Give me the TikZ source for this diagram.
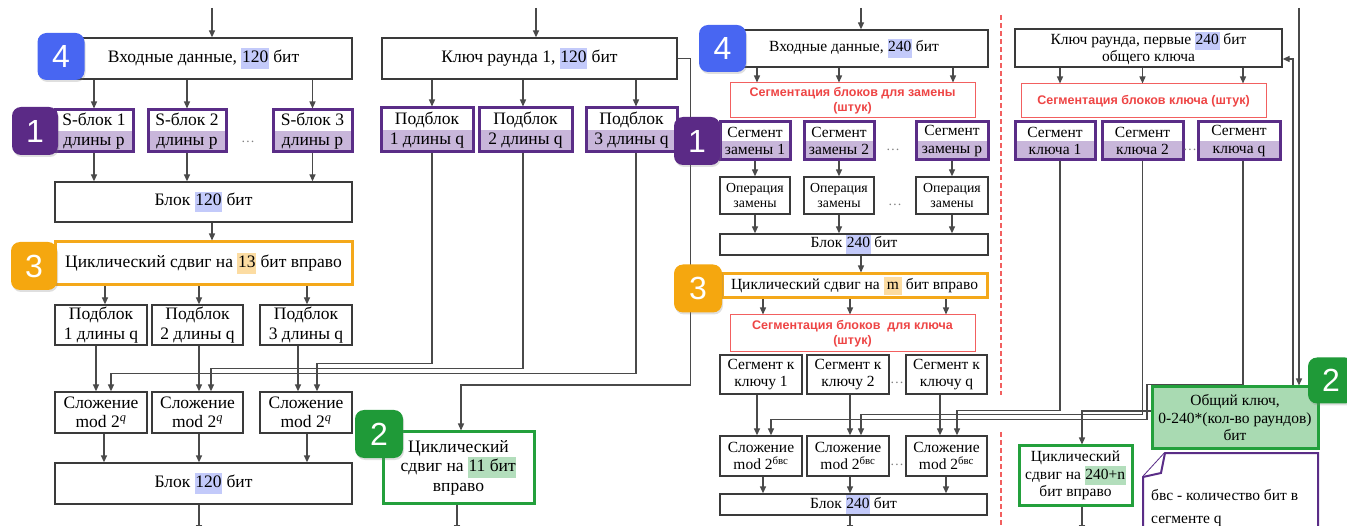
\documentclass[tikz,border=0pt]{standalone}
\usepackage{fontspec}
\setmainfont{Liberation Serif}
\newfontfamily\sansfnt{Liberation Sans}
\usetikzlibrary{arrows.meta,shadows}

\definecolor{boxline}{HTML}{3A3A3A}
\definecolor{wirecol}{HTML}{4A4A4A}
\definecolor{purpline}{HTML}{5A2D87}
\definecolor{lav}{HTML}{C8B6DA}
\definecolor{orline}{HTML}{F4A81A}
\definecolor{grline}{HTML}{23A03C}
\definecolor{gkeyfill}{HTML}{A9DAB2}
\definecolor{redline}{HTML}{F26060}
\definecolor{redtxt}{HTML}{EE4545}
\definecolor{hlblue}{HTML}{C3CAFA}
\definecolor{hlorange}{HTML}{FCDCA2}
\definecolor{hlgreen}{HTML}{B3DEBC}
\definecolor{bblue}{HTML}{4866F2}
\definecolor{bpurp}{HTML}{5B2A86}
\definecolor{borange}{HTML}{F5A70F}
\definecolor{bgreen}{HTML}{1F9A38}

\newcommand{\fntbig}{\fontsize{17.5}{19.5}\selectfont}
\newcommand{\fntmid}{\fontsize{15.5}{17.5}\selectfont}
\newcommand{\fntsmall}{\fontsize{13.8}{15.5}\selectfont}
\newcommand{\fntred}{\sansfnt\bfseries\fontsize{12.5}{15}\selectfont}
\newcommand{\fntbadge}{\sansfnt\fontsize{32}{32}\selectfont}
\newcommand{\hlt}[2]{{\setlength{\fboxsep}{0.6pt}\colorbox{#1}{\strut #2}}}

\tikzset{
  box/.style={draw=boxline, line width=1.3pt, fill=white, inner sep=1pt, align=center},
  subbox/.style={box, draw=purpline, line width=3pt,
    path picture={\fill[lav] (path picture bounding box.west) rectangle (path picture bounding box.south east);}},
  shiftbox/.style={box, draw=orline, line width=3pt},
  greenbox/.style={box, draw=grline, line width=3pt},
  segbox/.style={draw=redline, line width=1pt, fill=white, text=redtxt, align=center, font=\fntred, inner sep=1pt},
  badge/.style={rounded corners=9pt, minimum width=47, minimum height=47, text=white, font=\fntbadge,
    drop shadow={opacity=0.25, shadow xshift=1pt, shadow yshift=-2pt}},
  arr/.style={draw=wirecol, line width=1.3pt, -{Triangle[length=7pt,width=6pt]}},
  dotsn/.style={text=gray, font=\fntsmall, inner sep=0pt},
  reddash/.style={draw=redline, line width=2pt, dash pattern=on 5pt off 3pt},
  noteline/.style={draw=purpline, line width=2pt, fill=white}
}

\begin{document}
\begin{tikzpicture}[x=1pt,y=1pt,yscale=-1,xscale=1]
\useasboundingbox (0,0) rectangle (1347,526);
\coordinate (t1) at (212,8);
\coordinate (t2) at (536,8);
\coordinate (t3) at (861,8);
\coordinate (t4) at (1299,8);
\coordinate (bot) at (0,532);

% left: data path, 120 bit
\node[box, minimum width=297, minimum height=41, font=\fntbig] (in1) at (203.5,58.5) {Входные данные, \hlt{hlblue}{120} бит};
\node[subbox, minimum width=78, minimum height=42, font=\fntbig] (s1) at (94,131) {S-блок 1\\длины p};
\node[subbox, minimum width=78, minimum height=42, font=\fntbig] (s2) at (187,131) {S-блок 2\\длины p};
\node[subbox, minimum width=79, minimum height=42, font=\fntbig] (s3) at (312.5,131) {S-блок 3\\длины p};
\node[dotsn] (d1) at (248,142) {\dots};
\node[box, minimum width=297, minimum height=40, font=\fntbig] (blk1) at (203.5,202) {Блок \hlt{hlblue}{120} бит};
\node[shiftbox, minimum width=297, minimum height=43, font=\fntbig] (sh1) at (203.5,263.5) {Циклический сдвиг на \hlt{hlorange}{13} бит вправо};
\node[box, minimum width=92, minimum height=40, font=\fntbig] (p1) at (101,325) {Подблок\\1 длины q};
\node[box, minimum width=91, minimum height=40, font=\fntbig] (p2) at (197.5,325) {Подблок\\2 длины q};
\node[box, minimum width=92, minimum height=40, font=\fntbig] (p3) at (306,325) {Подблок\\3 длины q};
\node[box, minimum width=92, minimum height=41, font=\fntbig] (add1) at (101,412.5) {Сложение\\mod 2\textsuperscript{\itshape q}};
\node[box, minimum width=91, minimum height=41, font=\fntbig] (add2) at (197.5,412.5) {Сложение\\mod 2\textsuperscript{\itshape q}};
\node[box, minimum width=92, minimum height=41, font=\fntbig] (add3) at (306,412.5) {Сложение\\mod 2\textsuperscript{\itshape q}};
\node[box, minimum width=297, minimum height=41, font=\fntbig] (blk2) at (203.5,483.5) {Блок \hlt{hlblue}{120} бит};

% left: round key
\node[box, minimum width=295, minimum height=41, font=\fntbig] (key1) at (529.5,58.5) {Ключ раунда 1, \hlt{hlblue}{120} бит};
\node[subbox, minimum width=92, minimum height=44, font=\fntbig] (k1) at (427,130) {Подблок\\1 длины q};
\node[subbox, minimum width=93, minimum height=44, font=\fntbig] (k2) at (525.5,130) {Подблок\\2 длины q};
\node[subbox, minimum width=91, minimum height=44, font=\fntbig] (k3) at (631.5,130) {Подблок\\3 длины q};
\node[greenbox, minimum width=151, minimum height=71, font=\fntbig] (gsh1) at (458.5,467.5) {Циклический\\сдвиг на \hlt{hlgreen}{11 бит}\\вправо};

\draw[arr] (t1) -- (t1 |- in1.north);
\draw[arr] (in1.south -| s1) -- (s1);
\draw[arr] (in1.south -| s2) -- (s2);
\draw[arr] (in1.south -| s3) -- (s3);
\draw[arr] (s1) -- (s1 |- blk1.north);
\draw[arr] (s2) -- (s2 |- blk1.north);
\draw[arr] (s3) -- (s3 |- blk1.north);
\draw[arr] ([xshift=8.5]blk1.south) -- ([xshift=8.5]blk1.south |- sh1.north);
\draw[arr] ([xshift=4]p1.north |- sh1.south) -- ([xshift=4]p1.north);
\draw[arr] ([xshift=1.5]p2.north |- sh1.south) -- ([xshift=1.5]p2.north);
\draw[arr] ([xshift=1]p3.north |- sh1.south) -- ([xshift=1]p3.north);
\draw[arr] ([xshift=-5]p1.south) -- ([xshift=-5]add1.north);
\draw[arr] ([xshift=1.5]p2.south) -- ([xshift=1.5]add2.north);
\draw[arr] ([xshift=-8]p3.south) -- ([xshift=-8]add3.north);
\draw[arr] ([xshift=3]add1.south) -- ([xshift=3]add1.south |- blk2.north);
\draw[arr] ([xshift=1.5]add2.south) -- ([xshift=1.5]add2.south |- blk2.north);
\draw[arr] ([xshift=1]add3.south) -- ([xshift=1]add3.south |- blk2.north);
\draw[arr] ([xshift=-4.5]blk2.south) -- ([xshift=-4.5]blk2.south |- bot);

\draw[arr] (t2) -- (t2 |- key1.north);
\draw[arr] ([xshift=5]k1.north |- key1.south) -- ([xshift=5]k1.north);
\draw[arr] ([xshift=-2.5]k2.north |- key1.south) -- ([xshift=-2.5]k2.north);
\draw[arr] ([xshift=4.5]k3.north |- key1.south) -- ([xshift=4.5]k3.north);
\draw[arr] ([xshift=5]k1.south) -- ++(0,210) -| ([xshift=11]add3.north);
\draw[arr] ([xshift=-2.5]k2.south) -- ++(0,215) -| ([xshift=13.5]add2.north);
\draw[arr] ([xshift=4.5]k3.south) -- ++(0,220) -| ([xshift=10]add1.north);
\draw[arr] (key1.east) -- ++(13,0) -- ++(0,326.5) -| ([xshift=2.5]gsh1.north);
\draw[arr] ([xshift=-1.5]gsh1.south) -- ([xshift=-1.5]gsh1.south |- bot);

% right: data path, 240 bit
\node[box, minimum width=268, minimum height=37, font=\fntmid] (in2) at (854,48.5) {Входные данные, \hlt{hlblue}{240} бит};
\node[segbox, minimum width=245, minimum height=35] (sg1) at (852.5,100.5) {Сегментация блоков для замены\\(штук)};
\node[subbox, minimum width=70, minimum height=38, font=\fntmid] (z1) at (755,141) {Сегмент\\замены 1};
\node[subbox, minimum width=70, minimum height=38, font=\fntmid] (z2) at (839,141) {Сегмент\\замены 2};
\node[subbox, minimum width=72, minimum height=38, font=\fntmid] (z3) at (952,141) {Сегмент\\замены p};
\node[dotsn] (d2) at (893,150) {\dots};
\node[box, minimum width=70, minimum height=37, font=\fntsmall] (op1) at (755,195.5) {Операция\\замены};
\node[box, minimum width=70, minimum height=37, font=\fntsmall] (op2) at (839,195.5) {Операция\\замены};
\node[box, minimum width=72, minimum height=37, font=\fntsmall] (op3) at (952,195.5) {Операция\\замены};
\node[dotsn] (d3) at (895,205) {\dots};
\node[box, minimum width=268, minimum height=21, font=\fntmid] (blk3) at (854,244.5) {Блок \hlt{hlblue}{240} бит};
\node[shiftbox, minimum width=265, minimum height=24, font=\fntmid] (sh2) at (854.5,286) {Циклический сдвиг на \hlt{hlorange}{\,m\,} бит вправо};
\node[segbox, minimum width=245, minimum height=37] (sg2) at (852.5,333.5) {Сегментация блоков \ для ключа\\(штук)};
\node[box, minimum width=82, minimum height=39, font=\fntmid] (c1) at (761,374.5) {Сегмент к\\ключу 1};
\node[box, minimum width=82, minimum height=39, font=\fntmid] (c2) at (848,374.5) {Сегмент к\\ключу 2};
\node[box, minimum width=81, minimum height=39, font=\fntmid] (c3) at (946.5,374.5) {Сегмент к\\ключу q};
\node[dotsn] (d4) at (897,383) {\dots};
\node[box, minimum width=82, minimum height=40, font=\fntmid] (a1) at (761,456) {Сложение\\mod 2\textsuperscript{бвс}};
\node[box, minimum width=82, minimum height=40, font=\fntmid] (a2) at (848,456) {Сложение\\mod 2\textsuperscript{бвс}};
\node[box, minimum width=81, minimum height=40, font=\fntmid] (a3) at (946.5,456) {Сложение\\mod 2\textsuperscript{бвс}};
\node[dotsn] (d5) at (897,465) {\dots};
\node[box, minimum width=267, minimum height=21, font=\fntmid] (blk4) at (853.5,504.5) {Блок \hlt{hlblue}{240} бит};

\draw[arr] (t3) -- (t3 |- in2.north);
\draw[arr] ([xshift=2]z1.north |- in2.south) -- ([xshift=2]z1.north |- sg1.north);
\draw[arr] (z2.north |- in2.south) -- (z2.north |- sg1.north);
\draw[arr] ([xshift=1]z3.north |- in2.south) -- ([xshift=1]z3.north |- sg1.north);
\draw[arr] (z1) -- (op1);
\draw[arr] (z2) -- (op2);
\draw[arr] (z3) -- (op3);
\draw[arr] (op1) -- (op1 |- blk3.north);
\draw[arr] (op2) -- (op2 |- blk3.north);
\draw[arr] (op3) -- (op3 |- blk3.north);
\draw[arr] ([xshift=7]blk3.south) -- ([xshift=7]blk3.south |- sh2.north);
\draw[arr] ([xshift=2]c1.north |- sh2.south) -- ([xshift=2]c1.north |- sg2.north);
\draw[arr] ([xshift=2]c2.north |- sh2.south) -- ([xshift=2]c2.north |- sg2.north);
\draw[arr] ([xshift=-0.5]c3.north |- sh2.south) -- ([xshift=-0.5]c3.north |- sg2.north);
\draw[arr] ([xshift=-4]c1.south) -- ([xshift=-4]a1.north);
\draw[arr] ([xshift=2]c2.south) -- ([xshift=2]a2.north);
\draw[arr] ([xshift=-6.5]c3.south) -- ([xshift=-6.5]a3.north);
\draw[arr] ([xshift=2]a1.south) -- ([xshift=2]a1.south |- blk4.north);
\draw[arr] ([xshift=2]a2.south) -- ([xshift=2]a2.south |- blk4.north);
\draw[arr] ([xshift=-0.5]a3.south) -- ([xshift=-0.5]a3.south |- blk4.north);
\draw[arr] ([xshift=-3.5]blk4.south) -- ([xshift=-3.5]blk4.south |- bot);

% separator
\draw[reddash] (1001,15) -- (1001,395);
\draw[reddash] (1001,432) -- (1001,530);

% right: key schedule
\node[box, minimum width=267, minimum height=38, font=\fntmid] (rkey) at (1148.5,48) {Ключ раунда, первые \hlt{hlblue}{240} бит\\[-1pt]общего ключа};
\node[segbox, minimum width=245, minimum height=34] (sg3) at (1143.5,101) {Сегментация блоков ключа (штук)};
\node[subbox, minimum width=80, minimum height=38, font=\fntmid] (kk1) at (1055,141) {Сегмент\\ключа 1};
\node[subbox, minimum width=81, minimum height=38, font=\fntmid] (kk2) at (1142.5,141) {Сегмент\\ключа 2};
\node[subbox, minimum width=82, minimum height=38, font=\fntmid] (kk3) at (1239,141) {Сегмент\\ключа q};
\node[dotsn] (d6) at (1190,150) {\dots};
\node[box, draw=grline, line width=3pt, fill=gkeyfill, minimum width=166, minimum height=62, font=\fntmid] (gkey) at (1235,418) {Общий ключ,\\0-240*(кол-во раундов)\\бит};
\node[greenbox, minimum width=113, minimum height=59, font=\fntmid] (gsh2) at (1075.5,475.5) {Циклический\\сдвиг на \hlt{hlgreen}{240+n}\\бит вправо};

\draw[arr] ([xshift=5]kk1.north |- rkey.south) -- ([xshift=5]kk1.north |- sg3.north);
\draw[arr] (kk2.north |- rkey.south) -- (kk2.north |- sg3.north);
\draw[arr] ([xshift=4]kk3.north |- rkey.south) -- ([xshift=4]kk3.north |- sg3.north);
\draw[arr] ([xshift=5]kk1.south) -- ++(0,249) -| ([xshift=10.5]a3.north);
\draw[arr] (kk2.south) -- ++(0,253) -| ([xshift=13]a2.north);
\draw[arr] ([xshift=4]kk3.south) -- ++(0,223) -- ++(-96,0) -- ++(0,35) -| ([xshift=10]a1.north);
\draw[arr] (t4) -- (t4 |- gkey.north);
\draw[arr] ([xshift=58]gkey.north) |- ([yshift=11]rkey.east);
\draw[arr] ([yshift=-7]gkey.west) -| ([xshift=6.5]gsh2.north);
\draw[arr] ([xshift=6.5]gsh2.south) -- ([xshift=6.5]gsh2.south |- bot);

% note
\draw[noteline] (1165,453) -- (1318,453) -- (1318,545) -- (1143,545) -- (1143,477) -- cycle;
\draw[noteline] (1143,477) -- (1161,473) -- (1165,453);
\node[anchor=north west, align=left, inner sep=0pt, font=\fontsize{15.5}{23}\selectfont] (note) at (1151,489) {бвс - количество бит в\\сегменте q};

% badges
\node[badge, fill=bblue] (b4a) at (61,56.5) {4};
\node[badge, fill=bpurp, minimum width=46, minimum height=48] (b1a) at (35,131) {1};
\node[badge, fill=borange, minimum width=46, minimum height=48] (b3a) at (34,266) {3};
\node[badge, fill=bgreen, minimum width=48, minimum height=48] (b2a) at (379,434) {2};
\node[badge, fill=bblue] (b4b) at (722.5,48.5) {4};
\node[badge, fill=bpurp, minimum width=46, minimum height=48] (b1b) at (697,141) {1};
\node[badge, fill=borange, minimum width=48, minimum height=48] (b3b) at (698,288.5) {3};
\node[badge, fill=bgreen, minimum width=46, minimum height=46] (b2b) at (1331,380.5) {2};
\end{tikzpicture}
\end{document}
